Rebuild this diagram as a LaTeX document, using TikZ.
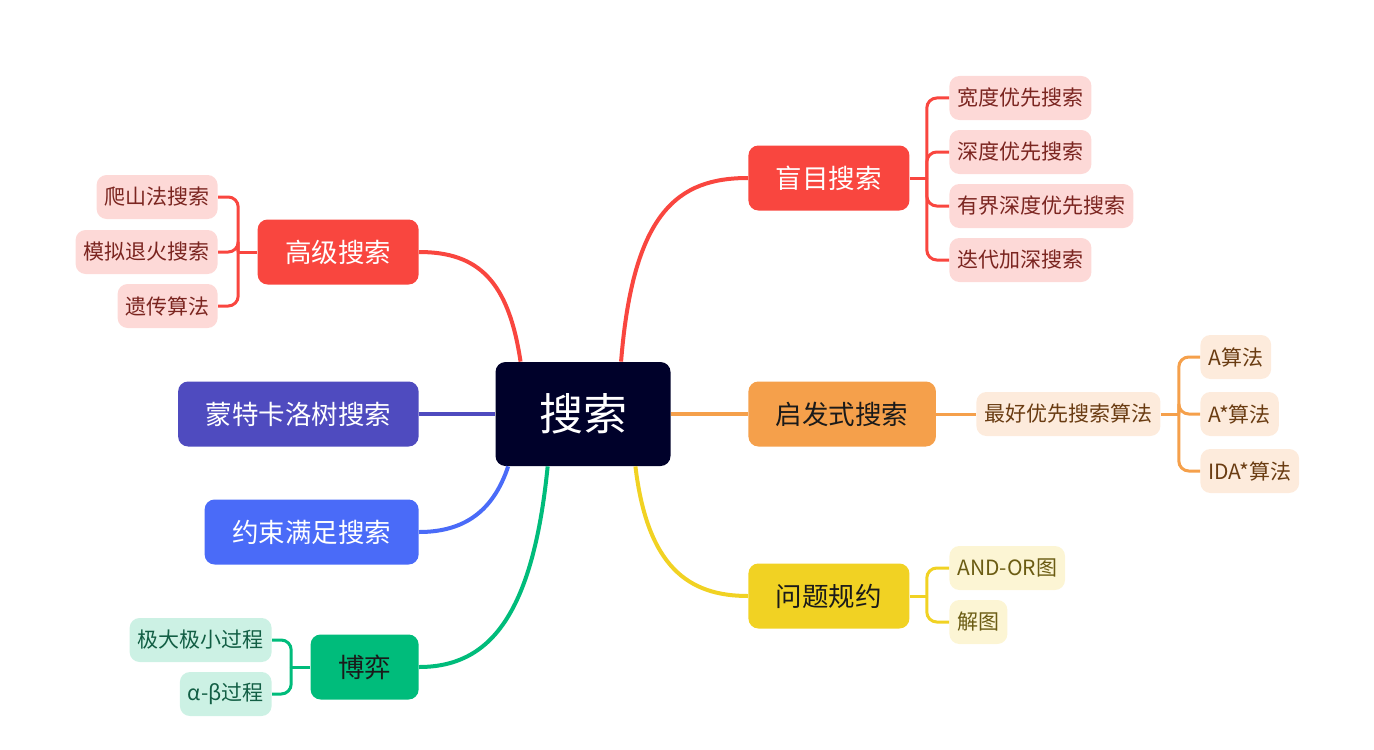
\documentclass[tikz,border=0pt]{standalone}
\usepackage{fontspec}
\setmainfont{Noto Sans CJK SC}
\usetikzlibrary{positioning}
\definecolor{rootc}{HTML}{00012A}
\definecolor{redc}{HTML}{F9463F}
\definecolor{orangec}{HTML}{F5A04B}
\definecolor{yellowc}{HTML}{F1D223}
\definecolor{purplec}{HTML}{4F4BBF}
\definecolor{bluec}{HTML}{4A6BF8}
\definecolor{greenc}{HTML}{00BC7B}
\definecolor{darktext}{HTML}{1A1A1A}
\definecolor{redfill}{HTML}{FDD9D7}
\definecolor{redtext}{HTML}{7B2520}
\definecolor{orangefill}{HTML}{FDEBDC}
\definecolor{orangetext}{HTML}{6A3C12}
\definecolor{yellowfill}{HTML}{FCF5D4}
\definecolor{yellowtext}{HTML}{6B5C13}
\definecolor{greenfill}{HTML}{CCF1E4}
\definecolor{greentext}{HTML}{125E44}
\tikzset{
  centerbox/.style={fill=rootc, text=white, rounded corners=5pt,
    minimum width=87.5pt, minimum height=52pt, font=\fontsize{22}{24}\selectfont},
  topicbox/.style={rounded corners=5pt, inner xsep=13.75pt, inner ysep=0pt,
    minimum height=32.5pt, text=white, font=\fontsize{13.25}{15}\selectfont},
  leafbox/.style={rounded corners=5pt, inner xsep=4pt, inner ysep=0pt,
    minimum height=22pt, font=\fontsize{10.5}{12}\selectfont},
  redleaf/.style={leafbox, fill=redfill, text=redtext},
  orangeleaf/.style={leafbox, fill=orangefill, text=orangetext},
  yellowleaf/.style={leafbox, fill=yellowfill, text=yellowtext},
  greenleaf/.style={leafbox, fill=greenfill, text=greentext},
  link/.style={line width=2pt},
  twig/.style={line width=1.5pt, rounded corners=5pt}
}
\begin{document}
\begin{tikzpicture}[x=0.5pt,y=-0.5pt]
\useasboundingbox (0,0) rectangle (1374,749);

\node[centerbox] (sousuo) at (583,414) {搜索};

\node[topicbox, fill=redc, anchor=west] (mangmu) at (748,178) {盲目搜索};
\node[topicbox, fill=orangec, text=darktext, anchor=west] (qifa) at (748,414) {启发式搜索};
\node[topicbox, fill=yellowc, text=darktext, anchor=west] (guiyue) at (748,596) {问题规约};
\node[topicbox, fill=redc, anchor=east] (gaoji) at (419,252) {高级搜索};
\node[topicbox, fill=purplec, anchor=east] (mengte) at (419,414) {蒙特卡洛树搜索};
\node[topicbox, fill=bluec, anchor=east] (yueshu) at (419,532) {约束满足搜索};
\node[topicbox, fill=greenc, text=darktext, anchor=east] (boyi) at (419,667) {博弈};

\node[redleaf, anchor=west] (kuandu) at (949,98) {宽度优先搜索};
\node[redleaf, anchor=west] (shendu) at (949,152) {深度优先搜索};
\node[redleaf, anchor=west] (youjie) at (949,206) {有界深度优先搜索};
\node[redleaf, anchor=west] (diedai) at (949,260) {迭代加深搜索};

\node[orangeleaf, anchor=west] (zuihao) at (976,414) {最好优先搜索算法};
\node[orangeleaf, anchor=west] (asuan) at (1200,357) {A算法};
\node[orangeleaf, anchor=west] (axing) at (1200,414) {A*算法};
\node[orangeleaf, anchor=west] (ida) at (1200,471) {IDA*算法};

\node[yellowleaf, anchor=west] (andor) at (949,568) {AND-OR图};
\node[yellowleaf, anchor=west] (jietu) at (949,622) {解图};

\node[redleaf, anchor=east] (pashan) at (218,197) {爬山法搜索};
\node[redleaf, anchor=east] (moni) at (218,252) {模拟退火搜索};
\node[redleaf, anchor=east] (yichuan) at (218,306) {遗传算法};

\node[greenleaf, anchor=east] (jida) at (272,640) {极大极小过程};
\node[greenleaf, anchor=east] (alphabeta) at (272,694) {α-β过程};

\draw[link, redc] (sousuo.54) .. controls +(12,-150) and +(-70,0) .. (mangmu.west);
\draw[link, redc] (sousuo.140) .. controls +(-12,-80) and +(60,0) .. (gaoji.east);
\draw[link, orangec] (sousuo.east) -- (qifa.west);
\draw[link, purplec] (sousuo.west) -- (mengte.east);
\draw[link, bluec] (sousuo.215) .. controls +(-15,45) and +(45,0) .. (yueshu.east);
\draw[link, greenc] (sousuo.236) .. controls +(-15,150) and +(70,0) .. (boyi.east);
\draw[link, yellowc] (sousuo.315) .. controls +(12,100) and +(-60,0) .. (guiyue.west);

\draw[twig, redc] (mangmu.east) -- ++(17,0) coordinate (mangj);
\foreach \k in {kuandu,shendu,youjie,diedai}
  \draw[twig, redc] (mangj) |- (\k.west);

\draw[twig, orangec] (qifa.east) -- (zuihao.west);
\draw[twig, orangec] (zuihao.east) -- ++(18,0) coordinate (zuihj);
\foreach \k in {asuan,axing,ida}
  \draw[twig, orangec] (zuihj) |- (\k.west);

\draw[twig, yellowc] (guiyue.east) -- ++(17,0) coordinate (guij);
\foreach \k in {andor,jietu}
  \draw[twig, yellowc] (guij) |- (\k.west);

\draw[twig, redc] (gaoji.west) -- ++(-19,0) coordinate (gaojij);
\foreach \k in {pashan,moni,yichuan}
  \draw[twig, redc] (gaojij) |- (\k.east);

\draw[twig, greenc] (boyi.west) -- ++(-19,0) coordinate (boyij);
\foreach \k in {jida,alphabeta}
  \draw[twig, greenc] (boyij) |- (\k.east);
\end{tikzpicture}
\end{document}
